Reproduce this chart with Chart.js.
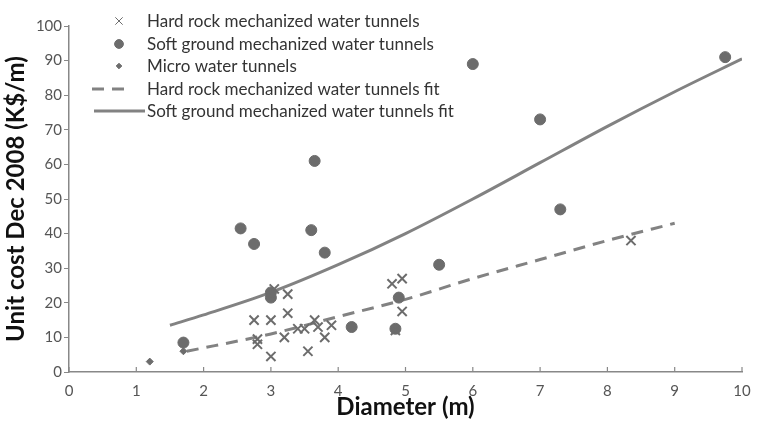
<!DOCTYPE html>
<html>
<head>
<meta charset="utf-8">
<title>Unit cost vs diameter</title>
<script src="https://cdn.jsdelivr.net/npm/chart.js"></script>
<style>
  html, body { margin: 0; padding: 0; background: #fff; }
  #wrap { width: 758px; height: 426px; }
</style>
</head>
<body>
<div id="wrap"><canvas id="c" width="758" height="426"></canvas></div>
<script>
// values
var hardRockD    = [2.75, 2.8, 2.8, 3.0, 3.0, 3.05, 3.2, 3.25, 3.25, 3.4, 3.5, 3.55, 3.65, 3.7, 3.8, 3.9, 4.8, 4.95, 4.95, 4.85, 8.35];
var hardRockCost = [15, 8, 9.5, 4.5, 15, 24, 10, 22.5, 17, 12.5, 12.5, 6, 15, 13, 10, 13.5, 25.5, 27, 17.5, 12, 38];

var softD    = [1.7, 2.55, 2.75, 3.0, 3.0, 3.6, 3.65, 3.8, 4.2, 4.9, 4.85, 5.5, 6.0, 7.0, 7.3, 9.75];
var softCost = [8.5, 41.5, 37, 21.5, 23, 41, 61, 34.5, 13, 21.5, 12.5, 31, 89, 73, 47, 91];

var microD    = [1.2, 1.7];
var microCost = [3, 6];

var hardFitD    = [1.75, 3, 4, 5, 6, 7, 8, 9];
var hardFitCost = [6, 11, 16, 21, 27, 32.5, 38, 43];

var softFitD    = [1.5, 2, 3, 4, 5, 6, 7, 8, 9, 10];
var softFitCost = [13.5, 16.5, 23, 31, 40, 50, 60.5, 71, 81, 90.5];

var xTicks = [0, 1, 2, 3, 4, 5, 6, 7, 8, 9, 10];

function pts(xs, ys) {
  return xs.map(function (x, i) { return { x: x, y: ys[i] }; });
}

var markGrey = "#6c6c6c";
var lineGrey = "#828282";
var font = "Lato, 'Open Sans', sans-serif";

// legend drawn by hand, top left of the plot
var legendPlugin = {
  id: "sideLegend",
  afterDraw: function (chart) {
    var ctx = chart.ctx;
    var rows = [21, 44, 66, 89, 111];
    ctx.save();
    ctx.font = "17px " + font;
    ctx.textBaseline = "middle";
    chart.data.datasets.forEach(function (ds, i) {
      var y = rows[i];
      ctx.fillStyle = "#333";
      ctx.fillText(ds.label, 147, y + 1);
      ctx.strokeStyle = ds.borderColor;
      ctx.fillStyle = ds.backgroundColor;
      if (ds.showLine) {
        ctx.lineWidth = ds.borderWidth;
        ctx.setLineDash(ds.borderDash || []);
        ctx.beginPath();
        ctx.moveTo(i === 3 ? 92 : 94, y);
        ctx.lineTo(i === 3 ? 132 : 145, y);
        ctx.stroke();
        ctx.setLineDash([]);
      } else {
        Chart.helpers.drawPoint(ctx, {
          pointStyle: ds.pointStyle,
          radius: ds.pointRadius * 0.8,
          borderWidth: ds.borderWidth * 0.8,
          rotation: 0
        }, 119, y);
      }
    });
    ctx.restore();
  }
};

// x ticks point inward (upwards) like in the source
var innerTicks = {
  id: "innerTicks",
  afterDraw: function (chart) {
    var xs = chart.scales.x, a = chart.chartArea, ctx = chart.ctx;
    ctx.save();
    ctx.strokeStyle = "#888";
    ctx.lineWidth = 1.2;
    xTicks.forEach(function (t) {
      var px = xs.getPixelForValue(t);
      ctx.beginPath();
      ctx.moveTo(px, a.bottom);
      ctx.lineTo(px, a.bottom - 5);
      ctx.stroke();
    });
    ctx.restore();
  }
};

new Chart(document.getElementById("c"), {
  type: "scatter",
  data: {
    datasets: [
      {
        label: "Hard rock mechanized water tunnels",
        data: pts(hardRockD, hardRockCost),
        pointStyle: "crossRot", pointRadius: 6.5, borderWidth: 2,
        borderColor: markGrey, backgroundColor: markGrey
      },
      {
        label: "Soft ground mechanized water tunnels",
        data: pts(softD, softCost),
        pointStyle: "circle", pointRadius: 5.5, borderWidth: 1,
        borderColor: markGrey, backgroundColor: markGrey
      },
      {
        label: "Micro water tunnels",
        data: pts(microD, microCost),
        pointStyle: "rectRot", pointRadius: 3.5, borderWidth: 1,
        borderColor: markGrey, backgroundColor: markGrey
      },
      {
        label: "Hard rock mechanized water tunnels fit",
        data: pts(hardFitD, hardFitCost),
        showLine: true, pointRadius: 0, borderWidth: 3, borderDash: [12, 8],
        borderColor: lineGrey, backgroundColor: lineGrey, cubicInterpolationMode: "monotone"
      },
      {
        label: "Soft ground mechanized water tunnels fit",
        data: pts(softFitD, softFitCost),
        showLine: true, pointRadius: 0, borderWidth: 3,
        borderColor: lineGrey, backgroundColor: lineGrey, cubicInterpolationMode: "monotone"
      }
    ]
  },
  options: {
    responsive: false,
    animation: false,
    layout: { padding: { top: 26, right: 16, left: 0, bottom: 0 } },
    plugins: { legend: { display: false }, tooltip: { enabled: false } },
    scales: {
      x: {
        min: 0, max: 10,
        afterBuildTicks: function (s) { s.ticks = xTicks.map(function (v) { return { value: v }; }); },
        afterFit: function (s) { s.height = 54; },
        grid: { display: false },
        border: { color: "#888", width: 1.5 },
        ticks: { color: "#555", font: { family: font, size: 15 }, padding: 2 },
        title: { display: true, text: "Diameter (m)", color: "#111", font: { family: font, size: 24, weight: "bold" }, padding: { top: 0 } }
      },
      y: {
        min: 0, max: 100,
        afterFit: function (s) { s.width = 69; },
        grid: { drawOnChartArea: false, tickLength: 5, color: "#888" },
        border: { color: "#888", width: 1.5 },
        ticks: { stepSize: 10, color: "#555", font: { family: font, size: 15 }, padding: 2 },
        title: { display: true, text: "Unit cost Dec 2008 (K$/m)", color: "#111", font: { family: font, size: 24, weight: "bold" }, padding: { bottom: 0, top: 2 } }
      }
    }
  },
  plugins: [legendPlugin, innerTicks]
});
</script>
</body>
</html>
